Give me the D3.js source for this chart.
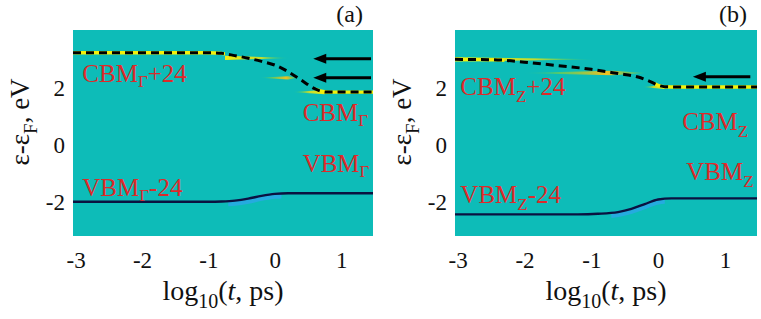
<!DOCTYPE html>
<html>
<head>
<meta charset="utf-8">
<script src="https://cdn.jsdelivr.net/npm/d3@7"></script>
<style>
  body { margin: 0; background: #fff; }
  svg text { font-family: "Liberation Serif", "DejaVu Serif", serif; }
</style>
</head>
<body>
<svg id="chart" width="761" height="319"></svg>
<script>
// tick values
var xTicks = [-3, -2, -1, 0, 1];
var yTicks = [-2, 0, 2];

// panel (a) - Gamma point
var cbmA_t = [-3.04, -1.0, -0.8, -0.6, -0.4, -0.2, 0, 0.2, 0.4, 0.6, 0.7, 0.8, 1.48];
var cbmA_e = [3.23, 3.23, 3.21, 3.13, 3.04, 2.93, 2.8, 2.57, 2.27, 1.97, 1.88, 1.85, 1.85];
var vbmA_t = [-3.04, -1.0, -0.8, -0.6, -0.4, -0.2, 0, 0.2, 1.48];
var vbmA_e = [-2.0, -2.0, -1.99, -1.96, -1.89, -1.79, -1.72, -1.70, -1.70];
var arrowsA = [3.02, 2.35];

// panel (b) - Z point
var cbmB_t = [-3.04, -2.4, -2.0, -1.5, -1.0, -0.6, -0.3, -0.1, 0, 0.1, 0.3, 1.48];
var cbmB_e = [3.0, 2.98, 2.9, 2.78, 2.65, 2.5, 2.38, 2.2, 2.09, 2.04, 2.03, 2.03];
var vbmB_t = [-3.04, -1.2, -0.9, -0.6, -0.4, -0.2, 0, 0.2, 1.48];
var vbmB_e = [-2.44, -2.44, -2.42, -2.36, -2.25, -2.08, -1.92, -1.88, -1.88];
var arrowsB = [2.39];

var teal = '#0dbcb8';
var red = '#dd2a2a';

var svg = d3.select('#chart');
var defs = svg.append('defs');

var y = d3.scaleLinear().domain([-3.2, 4.03]).range([236, 30]);

function grad(id, stops) {
  var g = defs.append('linearGradient').attr('id', id).attr('x1', '0%').attr('x2', '100%');
  stops.forEach(function(s) {
    g.append('stop').attr('offset', s[0]).attr('stop-color', s[1]).attr('stop-opacity', s[2]);
  });
}
// streak fading to the right / to the left
grad('fadeR', [['0%', '#f2ee10', 1], ['55%', '#d8e020', 0.9], ['80%', '#5ad060', 0.6], ['100%', teal, 0]]);
grad('fadeL', [['0%', teal, 0], ['25%', '#5ad060', 0.6], ['55%', '#d8e020', 0.9], ['100%', '#f2ee10', 1]]);
grad('fadeMid', [['0%', teal, 0], ['30%', '#6ad050', 0.7], ['70%', '#f0c020', 1], ['100%', '#6ad050', 0.4]]);

var panel = function(opt) {
  var x = d3.scaleLinear().domain([-3.04, 1.48]).range([opt.left, opt.right]);
  var g = svg.append('g');

  g.append('rect')
    .attr('x', opt.left).attr('y', y.range()[1])
    .attr('width', opt.right - opt.left).attr('height', y.range()[0] - y.range()[1])
    .attr('fill', teal);

  var clipId = 'clip' + opt.name;
  defs.append('clipPath').attr('id', clipId).append('rect')
    .attr('x', opt.left).attr('y', y.range()[1])
    .attr('width', opt.right - opt.left).attr('height', y.range()[0] - y.range()[1]);
  var plot = g.append('g').attr('clip-path', 'url(#' + clipId + ')');

  // heat streaks (wedges)
  opt.streaks.forEach(function(s) {
    var x0 = x(s.t0), x1 = x(s.t1), yy = y(s.e), h = s.h;
    var pts;
    if (s.dir === 'R') pts = [[x0, yy - h], [x1, yy], [x0, yy + h]];
    else if (s.dir === 'L') pts = [[x1, yy - h], [x0, yy], [x1, yy + h]];
    else pts = [[x0, yy], [(x0 + x1) * 0.5 + (x1 - x0) * 0.25, yy - h], [x1, yy], [(x0 + x1) * 0.5 + (x1 - x0) * 0.25, yy + h]];
    plot.append('path')
      .attr('d', 'M' + pts.join('L') + 'Z')
      .attr('fill', 'url(#' + (s.dir === 'R' ? 'fadeR' : s.dir === 'L' ? 'fadeL' : 'fadeMid') + ')');
  });

  var line = d3.line()
    .curve(d3.curveMonotoneX)
    .x(function(d) { return x(d[0]); })
    .y(function(d) { return y(d[1]); });

  var cbm = d3.zip(opt.cbm_t, opt.cbm_e);
  var vbm = d3.zip(opt.vbm_t, opt.vbm_e);

  // yellow under the dashed conduction band on its flat parts
  opt.yellow.forEach(function(r, i) {
    var id = 'yc' + opt.name + i;
    defs.append('clipPath').attr('id', id).append('rect')
      .attr('x', x(r[0])).attr('y', 0).attr('width', x(r[1]) - x(r[0])).attr('height', 319);
    plot.append('path').datum(cbm)
      .attr('d', line)
      .attr('clip-path', 'url(#' + id + ')')
      .style('fill', 'none').attr('stroke', '#f4f00a').style('stroke-width', '3.4px');
  });

  plot.append('path').datum(cbm)
    .attr('d', line)
    .style('fill', 'none').attr('stroke', '#000')
    .style('stroke-width', '3px').style('stroke-dasharray', '8,5');

  // blue glow on the valence band rise
  var gid = 'vg' + opt.name;
  defs.append('clipPath').attr('id', gid).append('rect')
    .attr('x', x(opt.glow[0])).attr('y', 0).attr('width', x(opt.glow[1]) - x(opt.glow[0])).attr('height', 319);
  plot.append('path').datum(vbm)
    .attr('d', line)
    .attr('clip-path', 'url(#' + gid + ')')
    .attr('transform', 'translate(0,2)')
    .style('fill', 'none').attr('stroke', '#3a9cff').attr('stroke-opacity', 0.55).style('stroke-width', '6px');

  plot.append('path').datum(vbm)
    .attr('d', line)
    .style('fill', 'none').attr('stroke', '#0a1240').style('stroke-width', '2.4px');

  // arrows
  opt.arrows.forEach(function(e) {
    var xa = x(opt.arrowT[0]), xb = x(opt.arrowT[1]), yy = y(e);
    plot.append('line')
      .attr('x1', xa + 10).attr('x2', xb).attr('y1', yy).attr('y2', yy)
      .attr('stroke', '#000').style('stroke-width', '3px');
    plot.append('path')
      .attr('d', 'M' + xa + ',' + yy + 'L' + (xa + 13) + ',' + (yy - 5) + 'L' + (xa + 13) + ',' + (yy + 5) + 'Z')
      .attr('fill', '#000');
  });

  // axes
  var ax = g.append('g')
    .attr('transform', 'translate(0,' + y.range()[0] + ')')
    .call(d3.axisBottom(x).tickValues(xTicks).tickSize(0).tickPadding(16).tickFormat(function(d) { return String(d); }));
  var ay = g.append('g')
    .attr('transform', 'translate(' + opt.left + ',0)')
    .call(d3.axisLeft(y).tickValues(yTicks).tickSize(0).tickPadding(8).tickFormat(function(d) { return String(d); }));
  [ax, ay].forEach(function(a) {
    a.select('.domain').remove();
    a.selectAll('text').style('font-family', '"Liberation Serif", serif').style('font-size', '23px').attr('fill', '#111');
  });

  // x title
  var xt = g.append('text')
    .attr('x', (opt.left + opt.right) / 2).attr('y', 300)
    .attr('text-anchor', 'middle').style('font-size', '28px').attr('fill', '#111');
  xt.append('tspan').text('log');
  xt.append('tspan').attr('dy', 8).style('font-size', '20px').text('10');
  xt.append('tspan').attr('dy', -8).text('(');
  xt.append('tspan').style('font-style', 'italic').text('t');
  xt.append('tspan').text(', ps)');

  // y title
  var yt = g.append('text')
    .attr('transform', 'translate(' + (opt.left - 44) + ',' + 122 + ') rotate(-90)')
    .attr('text-anchor', 'middle').style('font-size', '27px').attr('fill', '#111');
  yt.append('tspan').text('ε-ε');
  yt.append('tspan').attr('dy', 8).style('font-size', '19px').text('F');
  yt.append('tspan').attr('dy', -8).text(', eV');

  // panel letter
  g.append('text')
    .attr('x', opt.right - 10).attr('y', 22)
    .attr('text-anchor', 'end').style('font-size', '24px').attr('fill', '#111')
    .text(opt.letter);

  // band labels
  opt.labels.forEach(function(l) {
    var t = g.append('text')
      .attr('x', x(l.t)).attr('y', y(l.e))
      .style('font-size', '25px').attr('fill', red);
    t.append('tspan').text(l.base);
    t.append('tspan').attr('dy', l.dy).style('font-size', '17px').text(l.sub);
    if (l.tail) t.append('tspan').attr('dy', -l.dy).text(l.tail);
  });
};

panel({
  name: 'a', letter: '(a)', left: 73, right: 373,
  cbm_t: cbmA_t, cbm_e: cbmA_e, vbm_t: vbmA_t, vbm_e: vbmA_e,
  yellow: [[-3.04, -0.75], [0.62, 1.48]],
  glow: [-0.7, 0.1],
  arrows: arrowsA, arrowT: [0.58, 1.45],
  streaks: [
    {t0: -0.75, t1: 0.25, e: 3.05, h: 2.2, dir: 'R'},
    {t0: -0.25, t1: 0.35, e: 2.35, h: 1.6, dir: 'M'},
    {t0: 0.25, t1: 0.75, e: 1.85, h: 2.2, dir: 'L'}
  ],
  labels: [
    {base: 'CBM', sub: 'Γ', tail: '+24', t: -2.9, e: 2.21, dy: 5},
    {base: 'CBM', sub: 'Γ', t: 0.42, e: 0.84, dy: 5},
    {base: 'VBM', sub: 'Γ', t: 0.42, e: -0.95, dy: 5},
    {base: 'VBM', sub: 'Γ', tail: '-24', t: -2.9, e: -1.8, dy: 5}
  ]
});

panel({
  name: 'b', letter: '(b)', left: 455, right: 757,
  cbm_t: cbmB_t, cbm_e: cbmB_e, vbm_t: vbmB_t, vbm_e: vbmB_e,
  yellow: [[-3.04, -2.3], [-0.05, 1.48]],
  glow: [-0.7, 0.1],
  arrows: arrowsB, arrowT: [0.52, 1.38],
  streaks: [
    {t0: -3.04, t1: -0.85, e: 3.0, h: 2.2, dir: 'R'},
    {t0: -2.1, t1: -0.2, e: 2.52, h: 2.2, dir: 'M'},
    {t0: -0.25, t1: 0.1, e: 2.03, h: 2.0, dir: 'L'}
  ],
  labels: [
    {base: 'CBM', sub: 'Z', tail: '+24', t: -2.96, e: 1.75, dy: 7},
    {base: 'CBM', sub: 'Z', t: 0.36, e: 0.52, dy: 7},
    {base: 'VBM', sub: 'Z', t: 0.42, e: -1.23, dy: 7},
    {base: 'VBM', sub: 'Z', tail: '-24', t: -2.96, e: -2.04, dy: 7}
  ]
});
</script>
</body>
</html>
